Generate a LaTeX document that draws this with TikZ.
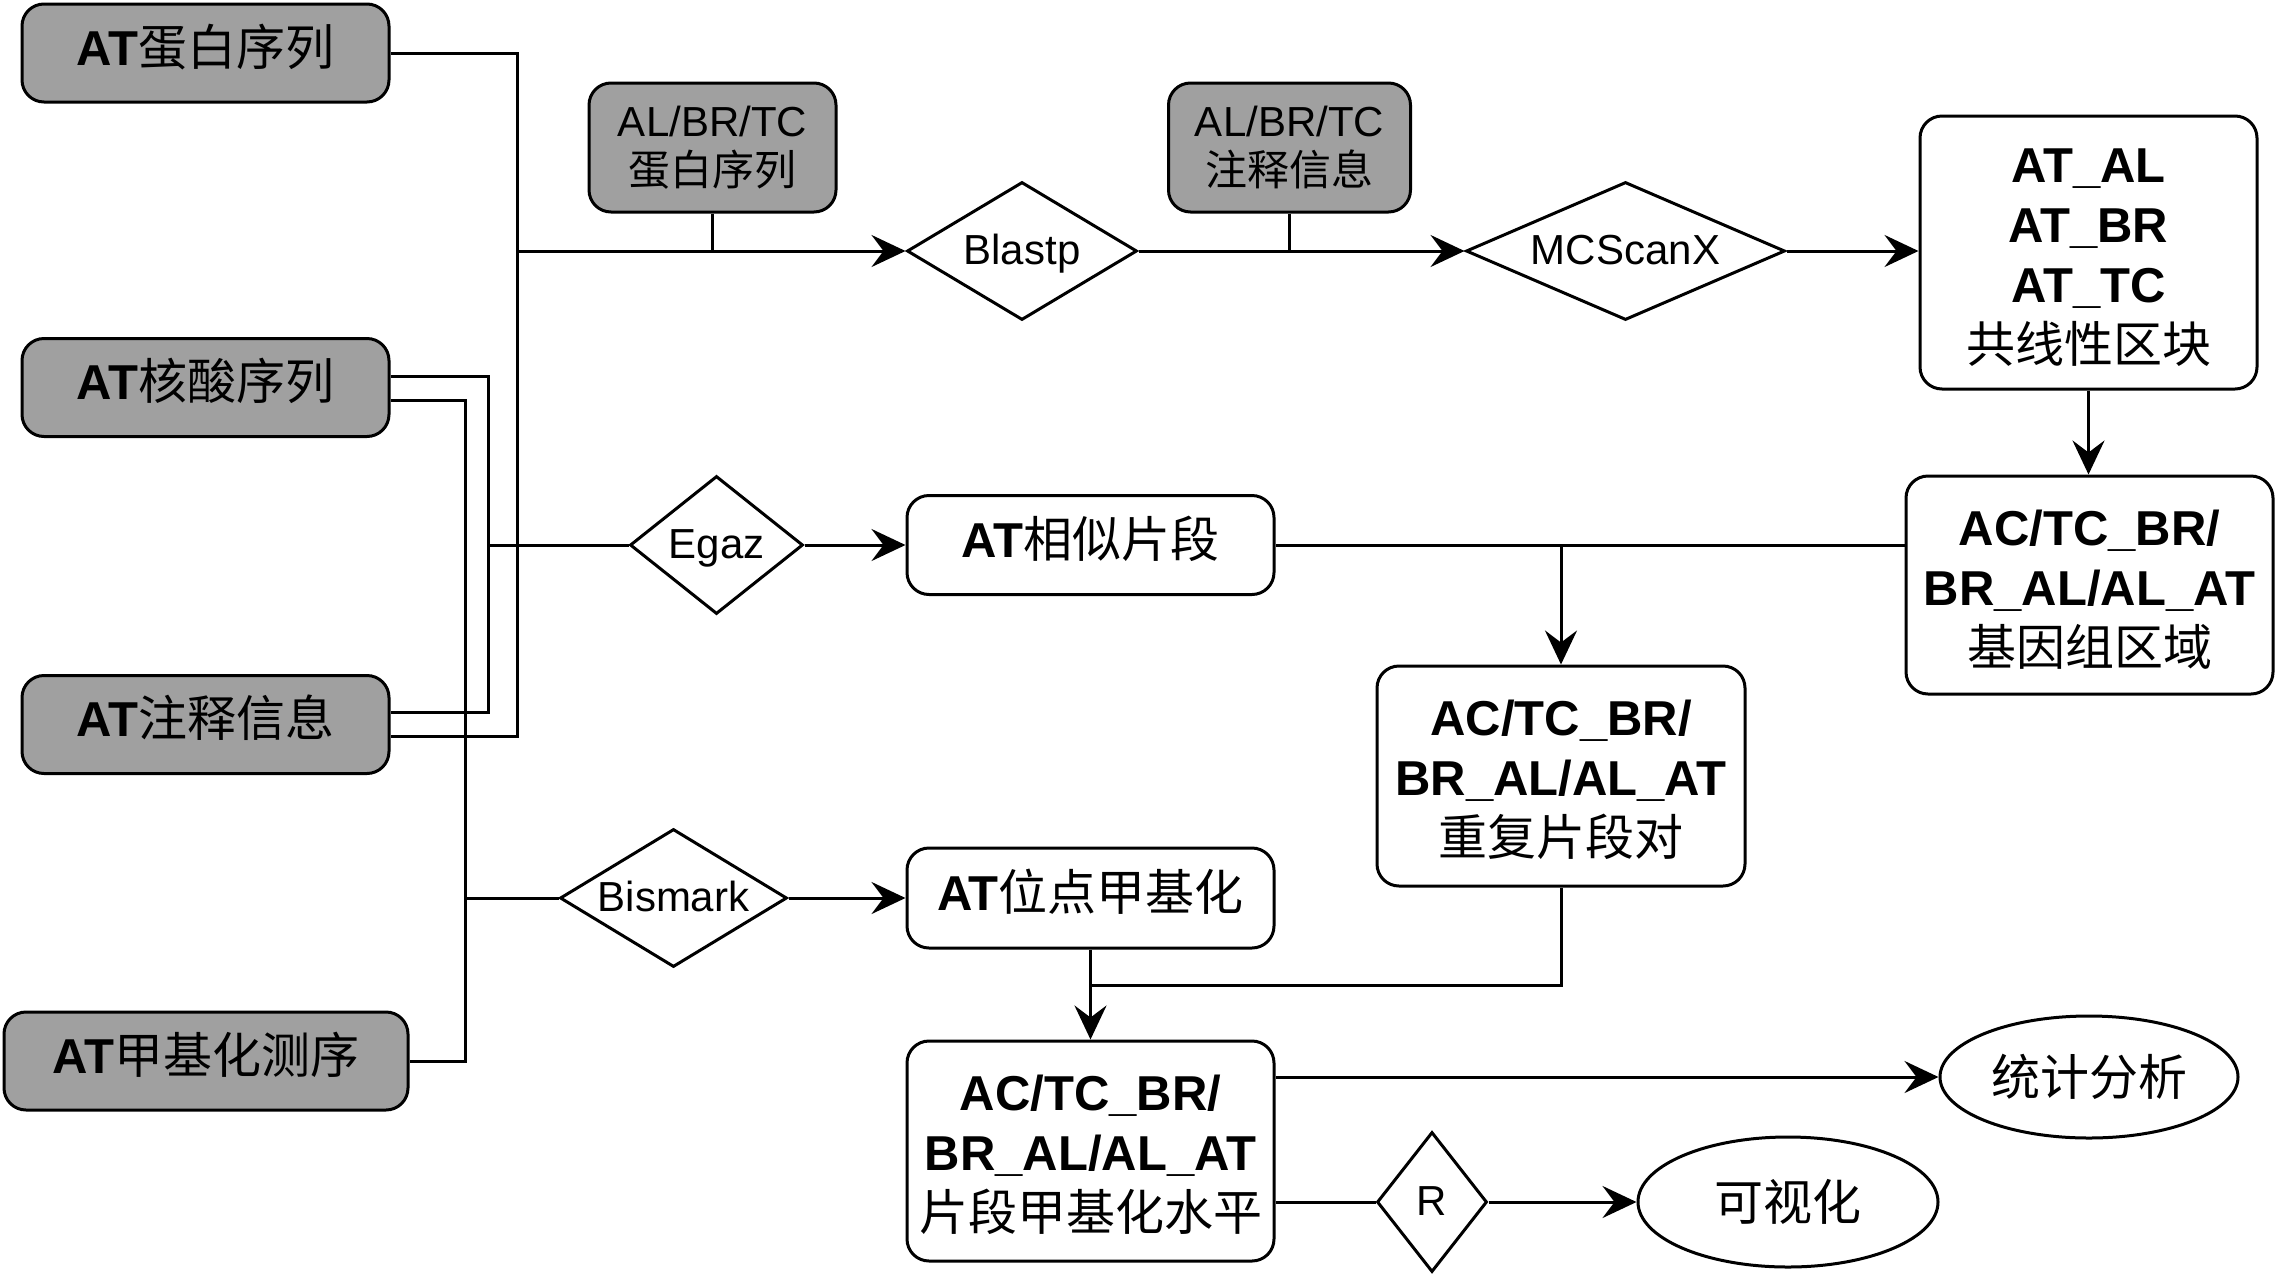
\documentclass[tikz,border=0pt]{standalone}
\usepackage{fontspec}
\setmainfont{Liberation Sans}
\newfontfamily\zhfont{Noto Sans CJK SC}
\usetikzlibrary{shapes.geometric,arrows.meta}
\definecolor{ingray}{RGB}{160,160,160}
\newcommand{\zh}[1]{{\zhfont #1}}
\newcommand{\dn}{\rule{0pt}{44pt}}
\begin{document}
\begin{tikzpicture}[x=1pt,y=-1pt,
  base/.style={draw, line width=3pt, inner sep=0pt, align=center},
  inbox/.style={base, rounded corners=22pt, fill=ingray, font=\fontsize{49}{60}\selectfont, text height=36pt, text depth=12pt},
  smbox/.style={base, rounded corners=22pt, fill=ingray, font=\fontsize{42}{49}\selectfont},
  wbox/.style={base, rounded corners=22pt, fill=white, font=\fontsize{49}{60}\selectfont},
  wone/.style={wbox, text height=36pt, text depth=12pt},
  dia/.style={base, diamond, font=\fontsize{42}{49}\selectfont, text height=30pt, text depth=4pt},
  ell/.style={base, ellipse, font=\fontsize{49}{60}\selectfont},
  conn/.style={line width=3pt},
  arr/.style={conn, -{Stealth[length=34pt,width=32pt,inset=12pt]}}]
\useasboundingbox (0,0) rectangle (2276,1275);

% inputs
\node[inbox, minimum width=367pt, minimum height=98pt] (in1) at (205.5,53) {\textbf{AT}\zh{蛋白序列}};
\node[inbox, minimum width=367pt, minimum height=98pt] (in2) at (205.5,387.5) {\textbf{AT}\zh{核酸序列}};
\node[inbox, minimum width=367pt, minimum height=98pt] (in3) at (205.5,724.5) {\textbf{AT}\zh{注释信息}};
\node[inbox, minimum width=404pt, minimum height=98pt] (in4) at (206,1061) {\textbf{AT}\zh{甲基化测序}};

\node[smbox, minimum width=247pt, minimum height=129pt] (p1) at (712.5,147.5) {AL/BR/TC\\\zh{蛋白序列}};
\node[smbox, minimum width=242pt, minimum height=129pt] (p2) at (1289.5,147.5) {AL/BR/TC\\\zh{注释信息}};

% diamonds
\node[dia, aspect=1.67, minimum width=230pt, minimum height=138pt] (blastp) at (1022,251) {Blastp};
\node[dia, aspect=2.31, minimum width=319pt, minimum height=138pt] (mcs) at (1625.5,251) {MCScanX};
\node[dia, aspect=1.25, minimum width=173pt, minimum height=138pt] (egaz) at (716.5,545) {Egaz};
\node[dia, aspect=1.64, minimum width=227pt, minimum height=138pt] (bis) at (673.5,898) {Bismark};
\node[dia, aspect=0.79, minimum width=110pt, minimum height=140pt] (rdia) at (1432,1202) {R};

% white boxes
\node[wbox, minimum width=337pt, minimum height=273pt] (syn) at (2088.5,252.5)
  {\dn\textbf{AT\_AL}\\\textbf{AT\_BR}\\\textbf{AT\_TC}\\\zh{共线性区块}};
\node[wbox, minimum width=367pt, minimum height=218pt] (reg) at (2089.5,585)
  {\dn\textbf{AC/TC\_BR/}\\\textbf{BR\_AL/AL\_AT}\\\zh{基因组区域}};
\node[wone, minimum width=367pt, minimum height=99pt] (sim) at (1090.5,545) {\textbf{AT}\zh{相似片段}};
\node[wbox, minimum width=368pt, minimum height=220pt] (dup) at (1561,776)
  {\dn\textbf{AC/TC\_BR/}\\\textbf{BR\_AL/AL\_AT}\\\zh{重复片段对}};
\node[wone, minimum width=367pt, minimum height=100pt] (site) at (1090.5,898) {\textbf{AT}\zh{位点甲基化}};
\node[wbox, minimum width=367pt, minimum height=220pt] (lvl) at (1090.5,1151)
  {\dn\textbf{AC/TC\_BR/}\\\textbf{BR\_AL/AL\_AT}\\\zh{片段甲基化水平}};

% ellipses
\node[ell, minimum width=298pt, minimum height=122pt] (stat) at (2089,1077) {\zh{统计分析}};
\node[ell, minimum width=300pt, minimum height=130pt] (viz) at (1788,1202) {\zh{可视化}};

% helper coordinates
\coordinate (xa) at (517,0);
\coordinate (xb) at (488,0);
\coordinate (xc) at (465,0);
\coordinate (jy) at (0,985);
\coordinate (in2up) at ([yshift=11pt]in2.east);
\coordinate (in2lo) at ([yshift=-13pt]in2.east);
\coordinate (in3up) at ([yshift=12pt]in3.east);
\coordinate (in3lo) at ([yshift=-12pt]in3.east);

% connectors
\draw[conn] (in1.east) -- (in1.east -| xa) -- (xa |- in3lo) -- (in3lo);
\draw[arr] (xa |- blastp) -- (blastp.west);
\draw[conn] (p1.south) -- (p1.south |- blastp);
\draw[arr] (blastp.east) -- (mcs.west);
\draw[conn] (p2.south) -- (p2.south |- mcs);
\draw[arr] (mcs.east) -- (mcs.east -| syn.west);
\draw[arr] (syn.south) -- (syn.south |- reg.north);

\draw[conn] (in2up) -- (in2up -| xb) -- (xb |- in3up) -- (in3up);
\draw[conn] (xb |- egaz) -- (egaz.west);
\draw[arr] (egaz.east) -- (sim.west);
\draw[conn] (sim.east) -- (sim.east -| reg.west);
\draw[arr] (sim.east -| dup.north) -- (dup.north);

\draw[conn] (in2lo) -- (in2lo -| xc) -- (xc |- in4.east) -- (in4.east);
\draw[conn] (xc |- bis) -- (bis.west);
\draw[arr] (bis.east) -- (site.west);
\draw[arr] (site.south) -- (lvl.north);
\draw[conn] (dup.south) -- (dup.south |- jy) -- (site.south |- jy);

\draw[arr] (stat.west -| lvl.east) -- (stat.west);
\draw[conn] (rdia.west -| lvl.east) -- (rdia.west);
\draw[arr] (rdia.east) -- (viz.west);
\end{tikzpicture}
\end{document}
